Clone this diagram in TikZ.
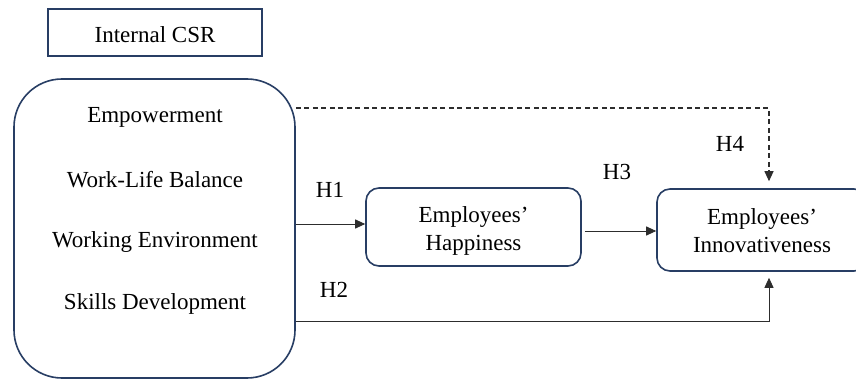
\documentclass[tikz,border=0pt]{standalone}
\usepackage{fontspec}
\setmainfont{Liberation Serif}
\usetikzlibrary{arrows.meta}
\definecolor{boxblue}{RGB}{40,62,100}
\definecolor{linegray}{RGB}{45,45,45}
\tikzset{
  lbl/.style={font=\fontsize{23}{28}\selectfont, inner sep=0pt, align=center},
  sqbox/.style={draw=boxblue, line width=1.6pt, minimum width=214pt, minimum height=47pt, inner sep=0pt},
  rbox/.style={draw=boxblue, line width=1.6pt, rounded corners=13pt, inner sep=0pt},
  conn/.style={draw=linegray, line width=0.9pt, -{Triangle[length=10pt,width=9pt]}},
  dconn/.style={conn, dash pattern=on 5pt off 3.5pt, line width=1.1pt},
}
\begin{document}
\begin{tikzpicture}[x=1pt,y=-1pt]
\clip (0,0) rectangle (856,379);
\useasboundingbox (0,0) rectangle (856,379);
\node[sqbox] (icsr) at (155,32.5) {};
\node[lbl] (icsrt) at (155,34.5) {Internal CSR};
\node[draw=boxblue, line width=1.6pt, rounded corners=48pt, minimum width=281pt, minimum height=299pt, inner sep=0pt] (csr) at (154.5,228.5) {};
\node[lbl] (emp) at (155,117) {Empowerment};
\node[lbl] (wlb) at (155,180) {Work-Life Balance};
\node[lbl] (wen) at (155,242) {Working Environment};
\node[lbl] (skd) at (155,304) {Skills Development};
\node[rbox, minimum width=215pt, minimum height=78pt] (hap) at (473.5,227) {};
\node[lbl] (hapt) at (473.5,231) {Employees'\\Happiness};
\node[rbox, minimum width=210pt, minimum height=82pt] (inn) at (762,230) {};
\node[lbl] (innt) at (762,231) {Employees'\\Innovativeness};
\coordinate (dc) at (769,108);
\coordinate (hc) at (769,321);
\draw[conn] (csr.east |- 0,224) -- (hap.west |- 0,224);
\draw[conn, shorten <=3pt] (hap.east |- 0,231) -- (inn.west |- 0,231);
\draw[dconn, shorten >=7pt] (csr.east |- dc) -- (dc) -- (dc |- inn.north);
\draw[conn, shorten >=6pt] (csr.east |- hc) -- (hc) -- (hc |- inn.south);
\node[lbl] (h1) at (330,190) {H1};
\node[lbl] (h2) at (334,290) {H2};
\node[lbl] (h3) at (617,172) {H3};
\node[lbl] (h4) at (730,144) {H4};
\end{tikzpicture}
\end{document}
